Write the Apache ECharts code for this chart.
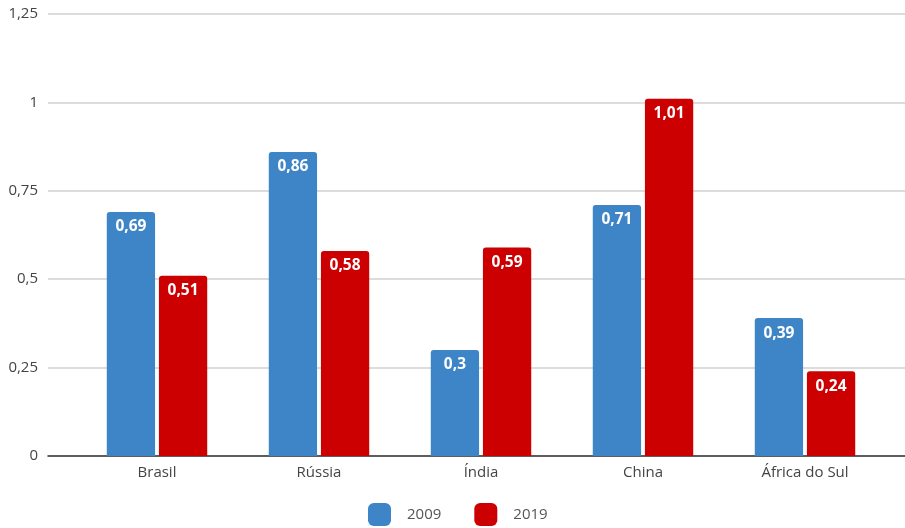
<!DOCTYPE html>
<html><head><meta charset="utf-8">
<script src="https://cdn.jsdelivr.net/npm/echarts@6/dist/echarts.min.js"></script>
<style>html,body{margin:0;padding:0;background:#fff}#c{width:905px;height:528px}</style>
</head><body><div id="c"></div>
<script>
const categories = ['Brasil', 'Rússia', 'Índia', 'China', 'África do Sul'];
const seriesNames = ['2009', '2019'];
const values2009 = [0.69, 0.86, 0.3, 0.71, 0.39];
const values2019 = [0.51, 0.58, 0.59, 1.01, 0.24];
const yTicks = [0, 0.25, 0.5, 0.75, 1, 1.25];

const fmt = v => String(v).replace('.', ',');
const font = "'Open Sans', 'Noto Sans', sans-serif";
const chart = echarts.init(document.getElementById('c'));
const lbl = {
  show: true, position: 'insideTop', distance: 7, color: '#fff',
  fontWeight: 'bold', fontSize: 15.5, fontFamily: font,
  formatter: p => fmt(p.value)
};
chart.setOption({
  animation: false,
  textStyle: { fontFamily: font },
  legend: {
    bottom: -3, left: 363, itemWidth: 23, itemHeight: 23, itemGap: 33,
    icon: 'roundRect',
    textStyle: { color: '#555', fontSize: 15, fontFamily: font, padding: [0, 0, 0, 11] },
    data: seriesNames
  },
  grid: [
    { left: 48, right: 0, top: 14, bottom: 72 },
    { left: 76, right: 19, top: 14, bottom: 72 }
  ],
  xAxis: [
    { gridIndex: 0, type: 'value', min: 0, max: 1, axisLabel: { show: false }, axisTick: { show: false },
      splitLine: { show: false }, axisLine: { show: true, lineStyle: { color: '#333', width: 1.5 } } },
    { gridIndex: 1, type: 'category', data: categories, axisLine: { show: false }, axisTick: { show: false },
      axisLabel: { color: '#444', fontSize: 15, fontFamily: font, margin: 9 } }
  ],
  yAxis: [
    { gridIndex: 0, type: 'value', min: yTicks[0], max: yTicks[yTicks.length - 1], interval: 0.25,
      axisLine: { show: false }, axisTick: { show: false },
      axisLabel: { color: '#444', fontSize: 15, fontFamily: font, margin: 10, formatter: v => fmt(v) },
      splitLine: { show: true, lineStyle: { color: '#d0d0d0', width: 1.5 } } },
    { gridIndex: 1, type: 'value', min: yTicks[0], max: yTicks[yTicks.length - 1], interval: 0.25, show: false,
      splitLine: { show: false } }
  ],
  series: [
    { name: seriesNames[0], type: 'bar', xAxisIndex: 1, yAxisIndex: 1, data: values2009,
      barGap: '8%', barCategoryGap: '38%', itemStyle: { color: '#3d85c6', borderRadius: [3, 3, 0, 0] }, label: lbl },
    { name: seriesNames[1], type: 'bar', xAxisIndex: 1, yAxisIndex: 1, data: values2019,
      barGap: '8%', barCategoryGap: '38%', itemStyle: { color: '#cc0000', borderRadius: [3, 3, 0, 0] }, label: lbl }
  ]
});
</script></body></html>
